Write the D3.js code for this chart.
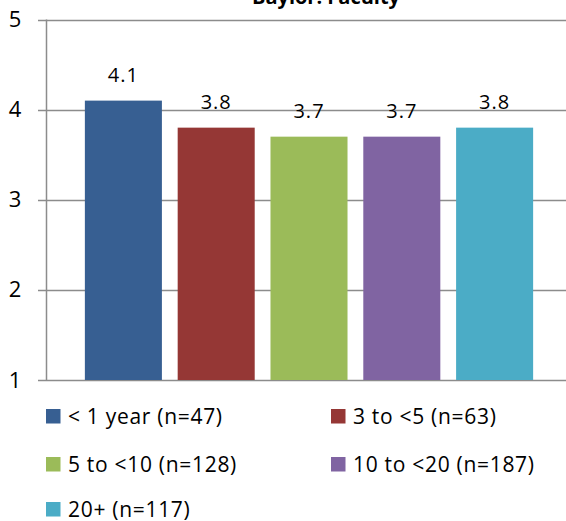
<!DOCTYPE html>
<html><head><meta charset="utf-8">
<script src="https://cdn.jsdelivr.net/npm/d3@7"></script>
<style>body{margin:0;background:#fff}svg{display:block}</style>
</head><body>
<svg id="c" width="566" height="521"></svg>
<script>
const categories = ["< 1 year (n=47)", "3 to <5 (n=63)", "5 to <10 (n=128)", "10 to <20 (n=187)", "20+ (n=117)"];
const values = [4.1, 3.8, 3.7, 3.7, 3.8];
const colors = ["#375F92", "#953735", "#9BBB59", "#8064A2", "#4BACC6"];
const yTicks = [1, 2, 3, 4, 5];
const title = "Baylor: Faculty";

const svg = d3.select("#c");
const font = "'Open Sans', sans-serif";
const x = d3.scaleBand().domain(categories).range([47, 571]).paddingInner(0.17).paddingOuter(0.408);
const y = d3.scaleLinear().domain([1, 5]).range([380, 19.5]);

// gridlines
svg.append("g").selectAll("line").data(yTicks).join("line")
  .attr("x1", 38).attr("x2", 566)
  .attr("y1", d => Math.round(y(d)) + 0.5).attr("y2", d => Math.round(y(d)) + 0.5)
  .attr("stroke", "#8C8C8C").attr("stroke-width", 1.5);

// axis line
svg.append("line").attr("x1", 46.5).attr("x2", 46.5).attr("y1", y(5)).attr("y2", y(1))
  .attr("stroke", "#8C8C8C").attr("stroke-width", 1.5);

// tick labels
svg.append("g").selectAll("text").data(yTicks).join("text")
  .attr("x", 15).attr("y", d => y(d) + 7.5).attr("text-anchor", "middle")
  .attr("font-family", font).attr("font-size", 22).attr("fill", "#000").text(d => d);

// bars
svg.append("g").selectAll("rect").data(values).join("rect")
  .attr("x", (d, i) => x(categories[i])).attr("width", x.bandwidth())
  .attr("y", d => y(d)).attr("height", d => y(1) - y(d))
  .attr("fill", (d, i) => colors[i]);

// value labels
svg.append("g").selectAll("text").data(values).join("text")
  .attr("x", (d, i) => x(categories[i]) + x.bandwidth() / 2)
  .attr("y", d => y(d) - 18.5).attr("text-anchor", "middle")
  .attr("font-family", font).attr("font-size", 20).attr("letter-spacing", 1).attr("fill", "#000")
  .text(d => d.toFixed(1));

// title
svg.append("text").attr("x", 326).attr("y", 4).attr("text-anchor", "middle")
  .attr("font-family", font).attr("font-weight", "bold").attr("font-size", 20)
  .text(title);

// legend
const legPos = [[46, 416], [331, 416], [46, 464], [331, 464], [46, 509]];
const lg = svg.append("g").selectAll("g").data(categories).join("g")
  .attr("transform", (d, i) => `translate(${legPos[i][0]},${legPos[i][1]})`);
lg.append("rect").attr("x", 0).attr("y", -7).attr("width", 14.5).attr("height", 14.5)
  .attr("fill", (d, i) => colors[i]);
lg.append("text").attr("x", 22).attr("y", 8).attr("font-family", font).attr("font-size", 21)
  .attr("letter-spacing", 0.7).text(d => d);
</script>
</body></html>
